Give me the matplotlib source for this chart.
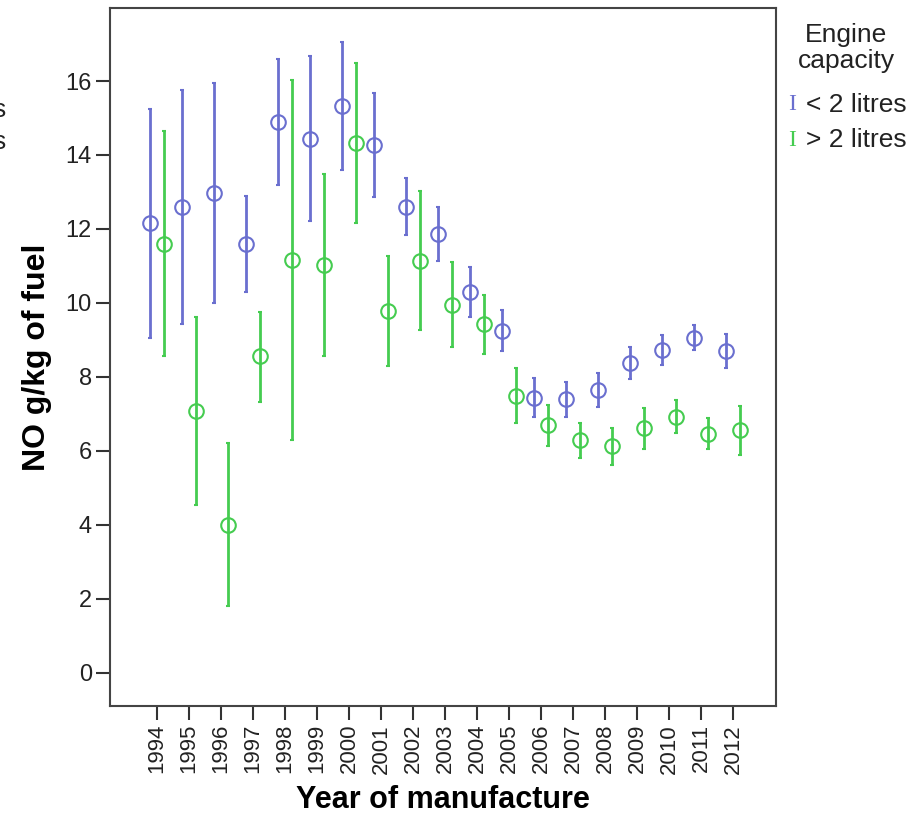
import numpy as np
import matplotlib.pyplot as plt

# -------------------------
# Data: mean NO emissions with 95% CI by year of manufacture
# -------------------------
years = [str(y) for y in range(1994, 2013)]

small_mean = [12.16, 12.60, 12.96, 11.59, 14.89, 14.43, 15.32, 14.26, 12.60, 11.87,
              10.30, 9.25, 7.44, 7.39, 7.65, 8.37, 8.73, 9.05, 8.69]
small_lo = [9.05, 9.42, 10.00, 10.29, 13.19, 12.21, 13.59, 12.86, 11.84, 11.14,
            9.62, 8.69, 6.90, 6.92, 7.19, 7.95, 8.31, 8.72, 8.23]
small_hi = [15.24, 15.77, 15.94, 12.90, 16.59, 16.68, 17.05, 15.68, 13.38, 12.60,
            10.98, 9.80, 7.97, 7.87, 8.11, 8.80, 9.14, 9.39, 9.15]

large_mean = [11.60, 7.07, 4.00, 8.55, 11.16, 11.02, 14.31, 9.77, 11.13, 9.95,
              9.42, 7.49, 6.70, 6.29, 6.12, 6.61, 6.92, 6.46, 6.55]
large_lo = [8.57, 4.53, 1.80, 7.33, 6.30, 8.55, 12.15, 8.30, 9.26, 8.81,
            8.61, 6.74, 6.14, 5.80, 5.62, 6.05, 6.47, 6.04, 5.88]
large_hi = [14.64, 9.63, 6.22, 9.76, 16.04, 13.49, 16.48, 11.26, 13.03, 11.11,
            10.21, 8.23, 7.25, 6.76, 6.61, 7.16, 7.36, 6.88, 7.22]

groups = ["< 2 litres", "> 2 litres"]
blue = "#6a6fcf"
green = "#45cc50"

plt.rcParams['font.family'] = ['Liberation Sans', 'DejaVu Sans']

fig = plt.figure(figsize=(9.24, 8.17), dpi=100)
ax = fig.add_axes([0.119, 0.136, 0.721, 0.854])

x = np.arange(len(years))
off = 0.22

series = [
    (x - off, small_mean, small_lo, small_hi, blue),
    (x + off, large_mean, large_lo, large_hi, green),
]
for xs, m, lo, hi, c in series:
    m = np.array(m)
    yerr = [m - np.array(lo), np.array(hi) - m]
    ax.errorbar(xs, m, yerr=yerr, fmt='o', color=c, ecolor=c,
                mfc='none', mec=c, ms=10.5, mew=1.5,
                elinewidth=2, capsize=1.5, capthick=2)

ax.set_xlim(-1.47, 19.34)
ax.set_ylim(-0.9, 17.97)
ax.set_yticks(range(0, 17, 2))
ax.set_xticks(x)
ax.set_xticklabels(years, rotation=90)

ax.tick_params(axis='both', direction='out', length=10, width=1.5,
               color='#333333', labelsize=17, labelcolor='#222222', pad=3)
ax.tick_params(axis='x', labelsize=16)
for s in ax.spines.values():
    s.set_color('#444444')
    s.set_linewidth(1.5)

narrow = ['Liberation Sans Narrow', 'Liberation Sans', 'DejaVu Sans']
ax.set_xlabel("Year of manufacture", fontsize=22, fontweight='bold',
              family=narrow, labelpad=8)
ax.set_ylabel("NO g/kg of fuel", fontsize=23, fontweight='bold',
              family=narrow, labelpad=10)

# legend
fig.text(846 / 924, 1 - 48 / 817, "Engine\ncapacity", ha='center', va='center',
         fontsize=19, color='#222222', linespacing=1.1)
for i, (lab, c) in enumerate(zip(groups, [blue, green])):
    yy = 1 - (105 + i * 35) / 817
    fig.text(792 / 924, yy, "I", ha='center', va='center', fontsize=17,
             color=c, family=['Liberation Serif', 'DejaVu Serif'])
    fig.text(806 / 924, yy, lab, ha='left', va='center', fontsize=19,
             color='#222222')

# clipped leftover text at the left edge
fig.text(6 / 924, 1 - 110 / 817, "s", ha='right', va='center', fontsize=19, color='#222222')
fig.text(6 / 924, 1 - 142 / 817, "s", ha='right', va='center', fontsize=19, color='#222222')

fig.savefig("out.png", dpi=100)
